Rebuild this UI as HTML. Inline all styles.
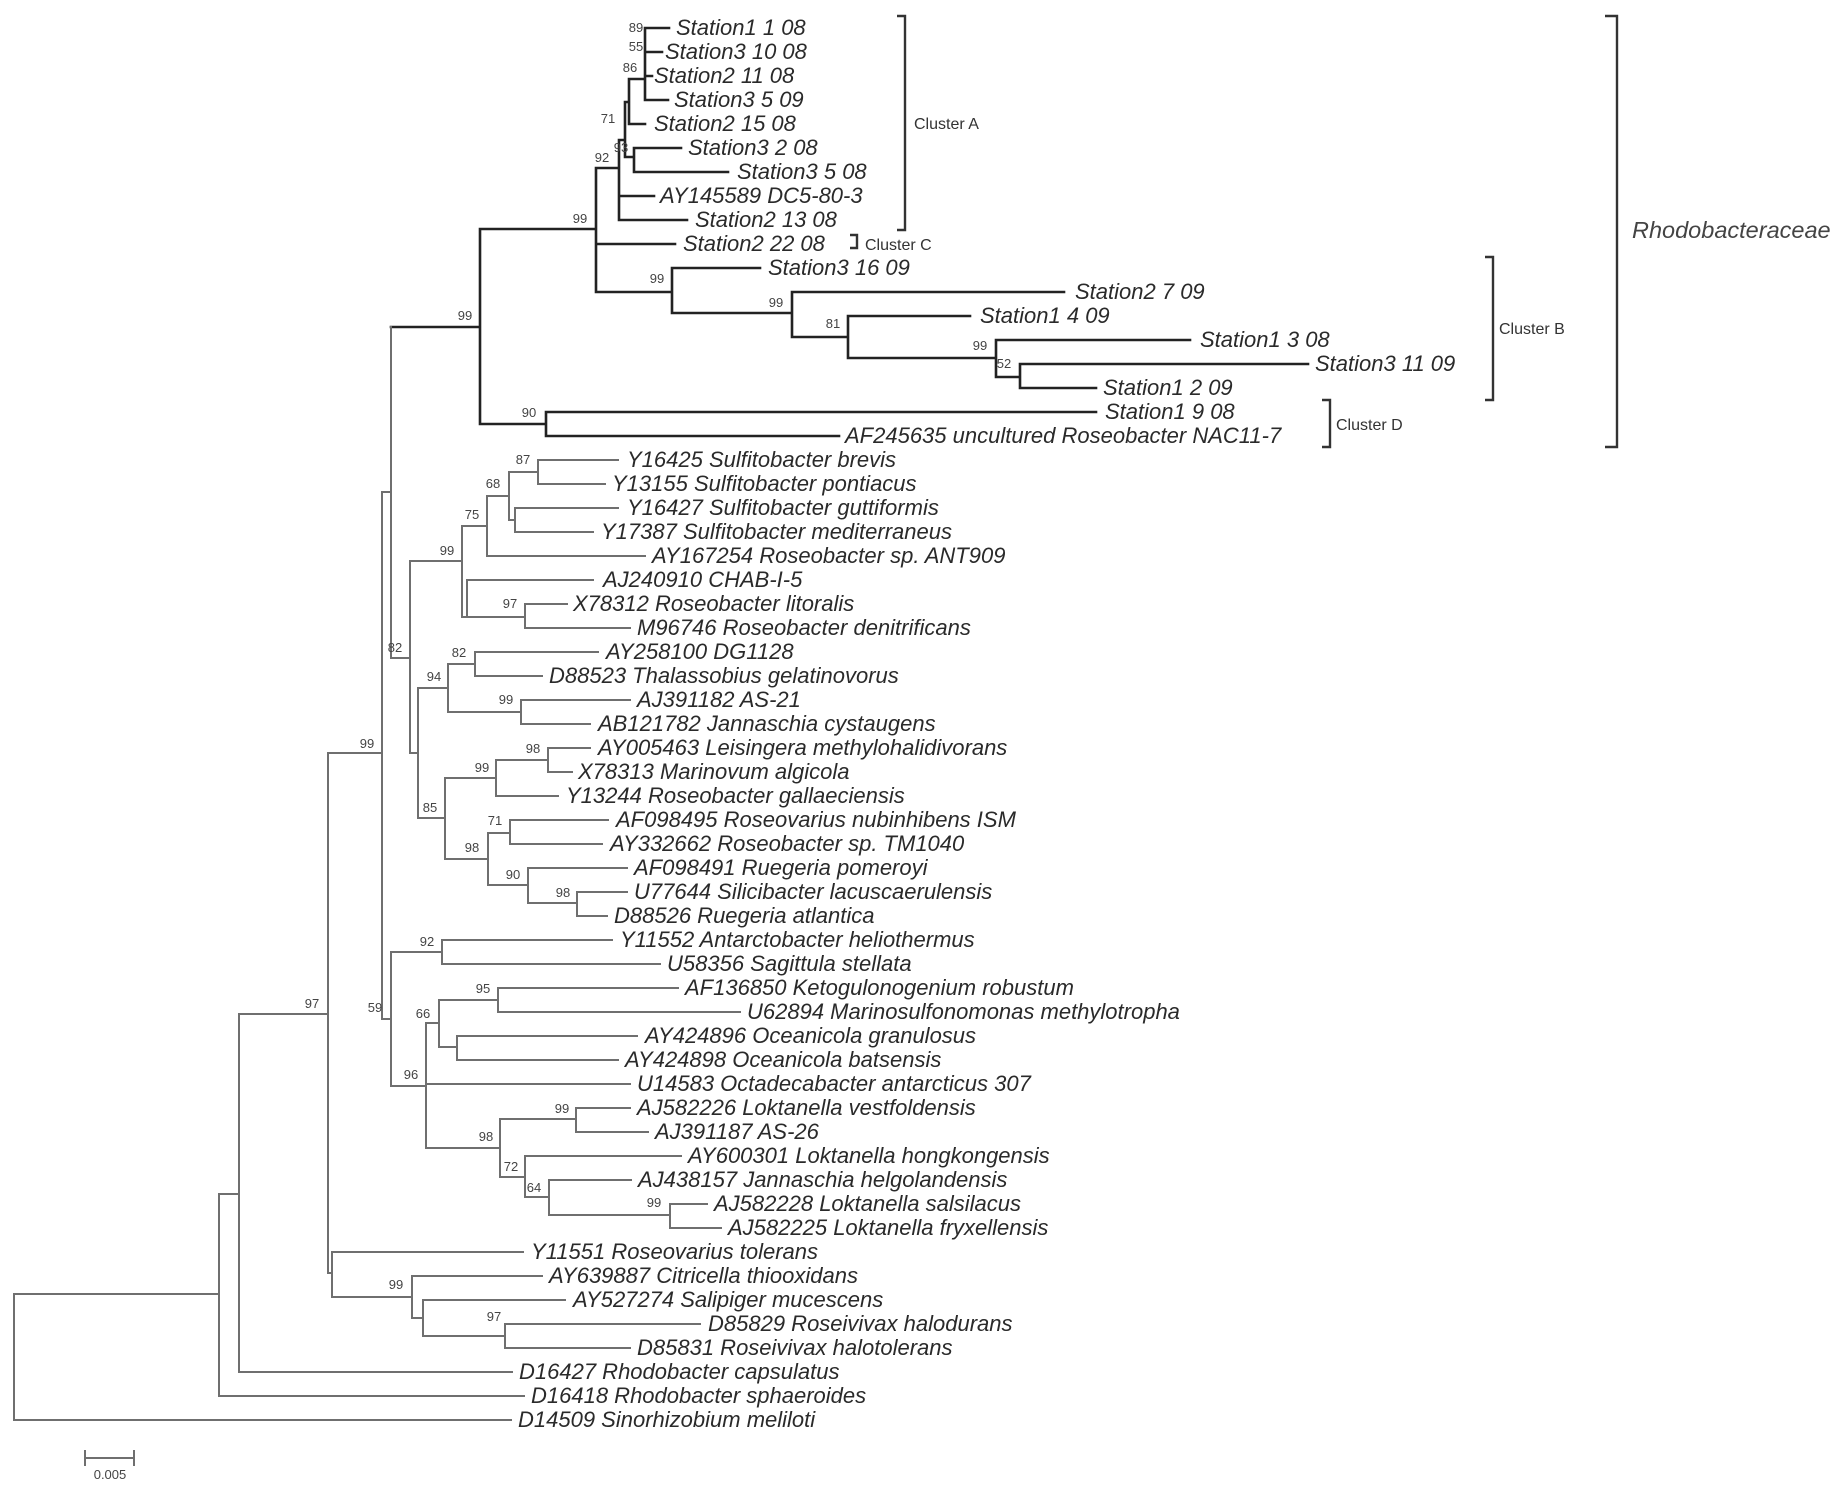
<!DOCTYPE html>
<html><head><meta charset="utf-8"><style>
html,body{margin:0;padding:0;background:#fff;}
svg{display:block}
.t{font-family:"Liberation Sans",sans-serif;font-style:italic;font-size:22px;fill:#2a2a2a}
.b{font-family:"Liberation Sans",sans-serif;font-size:13px;fill:#444;text-anchor:middle}
.c{font-family:"Liberation Sans",sans-serif;font-size:16px;fill:#333}
.k{stroke:#222;stroke-width:2.6;fill:none;stroke-linecap:square}
.g{stroke:#6f6f6f;stroke-width:2;fill:none;stroke-linecap:square}
</style></head><body>
<svg width="1842" height="1489" viewBox="0 0 1842 1489" xmlns="http://www.w3.org/2000/svg">
<rect width="1842" height="1489" fill="#fff"/>
<path class="k" d="
M645,28V100 M645,28H669 M645,52H662 M645,76H652 M645,100H668
M629,79V124 M629,79H645 M629,124H645
M625,102V157 M625,102H629 M625,157H634
M634,148V172 M634,148H681 M634,172H728
M619,140V220 M619,140H625 M619,196H654 M619,220H687
M596,168V292 M596,168H619 M596,244H675 M596,292H672
M672,268V313 M672,268H760 M672,313H792
M792,292V337 M792,292H1064 M792,337H848
M848,316V358 M848,316H970 M848,358H996
M996,340V377 M996,340H1190 M996,377H1020
M1020,364V388 M1020,364H1308 M1020,388H1096
M480,229V424 M480,229H596 M480,424H546
M546,412V436 M546,412H1096 M546,436H839
M391,327H480"/>
<path class="g" d="
M391,327V658 M391,658H410
M382,492V1019 M382,492H391 M382,1019H391 M328,753H382
M410,561V753 M410,561H462 M410,753H418
M462,526V617 M462,526H487 M462,617H467
M487,496V556 M487,496H509 M487,556H645
M509,472V520 M509,472H538 M509,520H515
M538,460V484 M538,460H618 M538,484H605
M515,508V532 M515,508H618 M515,532H593
M467,580V617 M467,580H593 M467,617H525
M525,604V628 M525,604H567 M525,628H630
M418,688V818 M418,688H448 M418,818H445
M448,664V712 M448,664H475 M448,712H521
M475,652V676 M475,652H598 M475,676H542
M521,700V724 M521,700H630 M521,724H590
M445,778V859 M445,778H496 M445,859H488
M496,760V796 M496,760H548 M496,796H558
M548,748V772 M548,748H590 M548,772H572
M488,833V885 M488,833H510 M488,885H528
M510,820V844 M510,820H608 M510,844H602
M528,868V903 M528,868H627 M528,903H577
M577,892V916 M577,892H627 M577,916H607
M391,952V1086 M391,952H442 M391,1086H426
M442,940V964 M442,940H612 M442,964H660
M426,1023V1148 M426,1023H439 M426,1084H630 M426,1148H500
M439,1000V1047 M439,1000H498 M439,1047H457
M498,988V1012 M498,988H678 M498,1012H740
M457,1036V1060 M457,1036H637 M457,1060H618
M500,1119V1177 M500,1119H576 M500,1177H525
M576,1108V1132 M576,1108H630 M576,1132H648
M525,1156V1197 M525,1156H681 M525,1197H549
M549,1180V1215 M549,1180H631 M549,1215H670
M670,1204V1228 M670,1204H707 M670,1228H721
M328,753V1273 M328,1273H332
M332,1252V1297 M332,1252H523 M332,1297H412
M412,1276V1318 M412,1276H542 M412,1318H423
M423,1300V1336 M423,1300H565 M423,1336H505
M505,1324V1348 M505,1324H700 M505,1348H630
M239,1014V1372 M239,1014H328 M239,1372H512
M219,1194V1396 M219,1194H239 M219,1396H524
M14,1294V1420 M14,1294H219 M14,1420H511
M85,1458H134 M85,1451V1465 M134,1451V1465"/>
<path stroke="#333" stroke-width="2.4" fill="none" d="M897,16H905V230H897 M850,235H857V248H850 M1485,257H1493V400H1485 M1322,400H1330V447H1322 M1605,16H1617V447H1605"/>
<text class="c" x="914" y="129">Cluster A</text>
<text class="c" x="865" y="250">Cluster C</text>
<text class="c" x="1499" y="334">Cluster B</text>
<text class="c" x="1336" y="430">Cluster D</text>
<text class="t" x="1632" y="238" style="font-size:23.5px;fill:#444">Rhodobacteraceae</text>
<text class="t" x="676" y="35">Station1 1 08</text>
<text class="t" x="665" y="59">Station3 10 08</text>
<text class="t" x="654" y="83">Station2 11 08</text>
<text class="t" x="674" y="107">Station3 5 09</text>
<text class="t" x="654" y="131">Station2 15 08</text>
<text class="t" x="688" y="155">Station3 2 08</text>
<text class="t" x="737" y="179">Station3 5 08</text>
<text class="t" x="660" y="203">AY145589  DC5-80-3</text>
<text class="t" x="695" y="227">Station2 13 08</text>
<text class="t" x="683" y="251">Station2 22 08</text>
<text class="t" x="768" y="275">Station3 16 09</text>
<text class="t" x="1075" y="299">Station2 7 09</text>
<text class="t" x="980" y="323">Station1 4 09</text>
<text class="t" x="1200" y="347">Station1 3 08</text>
<text class="t" x="1315" y="371">Station3 11 09</text>
<text class="t" x="1103" y="395">Station1 2 09</text>
<text class="t" x="1105" y="419">Station1 9 08</text>
<text class="t" x="845" y="443">AF245635 uncultured Roseobacter NAC11-7</text>
<text class="t" x="627" y="467">Y16425 Sulfitobacter brevis</text>
<text class="t" x="612" y="491">Y13155 Sulfitobacter pontiacus</text>
<text class="t" x="627" y="515">Y16427 Sulfitobacter guttiformis</text>
<text class="t" x="601" y="539">Y17387 Sulfitobacter mediterraneus</text>
<text class="t" x="652" y="563">AY167254 Roseobacter sp. ANT909</text>
<text class="t" x="603" y="587">AJ240910 CHAB-I-5</text>
<text class="t" x="573" y="611">X78312 Roseobacter litoralis</text>
<text class="t" x="637" y="635">M96746 Roseobacter denitrificans</text>
<text class="t" x="606" y="659">AY258100 DG1128</text>
<text class="t" x="549" y="683">D88523 Thalassobius gelatinovorus</text>
<text class="t" x="637" y="707">AJ391182 AS-21</text>
<text class="t" x="598" y="731">AB121782 Jannaschia cystaugens</text>
<text class="t" x="598" y="755">AY005463 Leisingera methylohalidivorans</text>
<text class="t" x="578" y="779">X78313  Marinovum algicola</text>
<text class="t" x="566" y="803">Y13244 Roseobacter gallaeciensis</text>
<text class="t" x="616" y="827">AF098495 Roseovarius nubinhibens ISM</text>
<text class="t" x="610" y="851">AY332662 Roseobacter sp. TM1040</text>
<text class="t" x="634" y="875">AF098491 Ruegeria pomeroyi</text>
<text class="t" x="634" y="899">U77644 Silicibacter lacuscaerulensis</text>
<text class="t" x="614" y="923">D88526 Ruegeria atlantica</text>
<text class="t" x="620" y="947">Y11552 Antarctobacter heliothermus</text>
<text class="t" x="667" y="971">U58356 Sagittula stellata</text>
<text class="t" x="685" y="995">AF136850 Ketogulonogenium robustum</text>
<text class="t" x="747" y="1019">U62894 Marinosulfonomonas methylotropha</text>
<text class="t" x="645" y="1043">AY424896 Oceanicola granulosus</text>
<text class="t" x="625" y="1067">AY424898 Oceanicola batsensis</text>
<text class="t" x="637" y="1091">U14583 Octadecabacter antarcticus 307</text>
<text class="t" x="637" y="1115">AJ582226 Loktanella vestfoldensis</text>
<text class="t" x="655" y="1139">AJ391187 AS-26</text>
<text class="t" x="688" y="1163">AY600301 Loktanella hongkongensis</text>
<text class="t" x="638" y="1187">AJ438157 Jannaschia helgolandensis</text>
<text class="t" x="714" y="1211">AJ582228 Loktanella salsilacus</text>
<text class="t" x="728" y="1235">AJ582225 Loktanella fryxellensis</text>
<text class="t" x="531" y="1259">Y11551 Roseovarius tolerans</text>
<text class="t" x="549" y="1283">AY639887 Citricella thiooxidans</text>
<text class="t" x="573" y="1307">AY527274 Salipiger mucescens</text>
<text class="t" x="708" y="1331">D85829 Roseivivax halodurans</text>
<text class="t" x="637" y="1355">D85831 Roseivivax halotolerans</text>
<text class="t" x="519" y="1379">D16427 Rhodobacter capsulatus</text>
<text class="t" x="531" y="1403">D16418 Rhodobacter sphaeroides</text>
<text class="t" x="518" y="1427">D14509 Sinorhizobium meliloti</text>
<text class="b" x="636" y="32">89</text>
<text class="b" x="636" y="51">55</text>
<text class="b" x="630" y="72">86</text>
<text class="b" x="608" y="123">71</text>
<text class="b" x="621" y="152">93</text>
<text class="b" x="602" y="162">92</text>
<text class="b" x="580" y="223">99</text>
<text class="b" x="657" y="283">99</text>
<text class="b" x="776" y="307">99</text>
<text class="b" x="833" y="328">81</text>
<text class="b" x="980" y="350">99</text>
<text class="b" x="1004" y="368">52</text>
<text class="b" x="465" y="320">99</text>
<text class="b" x="529" y="417">90</text>
<text class="b" x="523" y="464">87</text>
<text class="b" x="493" y="488">68</text>
<text class="b" x="472" y="519">75</text>
<text class="b" x="447" y="555">99</text>
<text class="b" x="510" y="608">97</text>
<text class="b" x="395" y="652">82</text>
<text class="b" x="459" y="657">82</text>
<text class="b" x="434" y="681">94</text>
<text class="b" x="506" y="704">99</text>
<text class="b" x="367" y="748">99</text>
<text class="b" x="533" y="753">98</text>
<text class="b" x="482" y="772">99</text>
<text class="b" x="430" y="812">85</text>
<text class="b" x="495" y="825">71</text>
<text class="b" x="472" y="852">98</text>
<text class="b" x="513" y="879">90</text>
<text class="b" x="563" y="897">98</text>
<text class="b" x="427" y="946">92</text>
<text class="b" x="483" y="993">95</text>
<text class="b" x="375" y="1012">59</text>
<text class="b" x="423" y="1018">66</text>
<text class="b" x="411" y="1079">96</text>
<text class="b" x="562" y="1113">99</text>
<text class="b" x="486" y="1141">98</text>
<text class="b" x="511" y="1171">72</text>
<text class="b" x="534" y="1192">64</text>
<text class="b" x="654" y="1207">99</text>
<text class="b" x="396" y="1289">99</text>
<text class="b" x="494" y="1321">97</text>
<text class="b" x="312" y="1008">97</text>
<text class="b" x="110" y="1479">0.005</text>
</svg>
</body></html>
